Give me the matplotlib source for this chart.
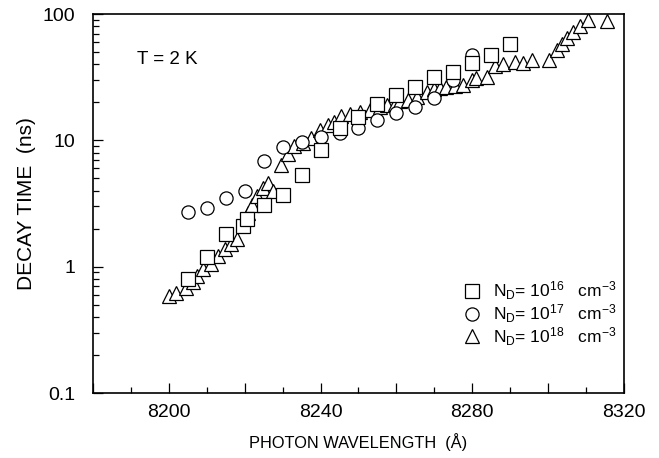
import matplotlib
matplotlib.use("Agg")
import matplotlib.pyplot as plt
from matplotlib.ticker import FixedLocator, MultipleLocator, LogLocator, NullFormatter

plt.rcParams['font.family'] = ['Liberation Sans', 'DejaVu Sans']
plt.rcParams['mathtext.fontset'] = 'custom'
plt.rcParams['mathtext.rm'] = 'Liberation Sans'
plt.rcParams['mathtext.it'] = 'Liberation Sans:italic'

# N_D = 1e16 cm^-3 (squares)
sq_wl = [8205, 8210, 8215, 8219.5, 8220.5, 8225, 8230, 8235, 8240, 8245,
         8250, 8255, 8260, 8265, 8270, 8275, 8280, 8285, 8290]
sq_tau = [0.80, 1.2, 1.8, 2.1, 2.4, 3.1, 3.7, 5.3, 8.4, 12.6,
          15.2, 19.3, 23, 26.5, 32, 35, 41, 47, 58]

# N_D = 1e17 cm^-3 (circles)
ci_wl = [8205, 8210, 8215, 8220, 8225, 8230, 8235, 8240, 8245, 8250,
         8255, 8260, 8265, 8270, 8275, 8280]
ci_tau = [2.7, 2.9, 3.5, 4.0, 6.9, 8.9, 9.7, 10.6, 11.5, 12.6,
          14.5, 16.6, 18.3, 21.5, 30, 47]

# N_D = 1e18 cm^-3 (triangles)
tr_wl = [8200.0, 8201.8, 8204.5, 8206.3, 8207.5, 8209.0, 8211.0, 8213.0, 8214.8, 8216.5,
         8218.0, 8221.0, 8221.8, 8223.2, 8224.9, 8226.2, 8227.5, 8229.7, 8231.5, 8233.0,
         8235.5, 8237.6, 8239.8, 8242.0, 8243.5, 8245.5, 8247.8, 8250.4, 8253.0, 8255.7,
         8257.4, 8259.5, 8261.0, 8263.1, 8265.5, 8268.0, 8270.0, 8271.5, 8273.2, 8275.5,
         8277.6, 8280.0, 8281.1, 8283.8, 8286.0, 8288.2, 8291.3, 8293.5, 8295.7, 8300.1,
         8302.3, 8303.6, 8304.9, 8306.6, 8308.4, 8310.4, 8315.4]
tr_tau = [0.59, 0.62, 0.68, 0.75, 0.85, 0.95, 1.05, 1.22, 1.38, 1.5,
          1.65, 2.65, 3.1, 3.6, 4.2, 4.6, 4.0, 6.4, 7.8, 9.0,
          9.6, 10.5, 12.0, 13.2, 14.0, 15.5, 16.3, 16.8, 17.3, 18.2,
          19.1, 19.5, 20.5, 21.0, 22.0, 24.0, 25.5, 26.0, 26.5, 27.0,
          27.5, 30.0, 31.0, 32.0, 39.0, 40.0, 42.0, 41.0, 43.0, 43.0,
          52.0, 58.0, 65.0, 72.0, 81.0, 90.0, 88.0]

labels = [r'N$_\mathrm{D}$= 10$^{16}$   cm$^{-3}$',
          r'N$_\mathrm{D}$= 10$^{17}$   cm$^{-3}$',
          r'N$_\mathrm{D}$= 10$^{18}$   cm$^{-3}$']
xtick_labels = [8200, 8240, 8280, 8320]
ytick_vals = [0.1, 1, 10, 100]
ytick_labels = ['0.1', '1', '10', '100']

fig = plt.figure(figsize=(6.59, 4.58), dpi=100)
ax = fig.add_axes([0.1411, 0.1419, 0.8058, 0.8275])

mk = dict(linestyle='none', markerfacecolor='white', markeredgecolor='black',
          markeredgewidth=0.9)
h3, = ax.plot(tr_wl, tr_tau, marker='^', markersize=10, label=labels[2], **mk)
h2, = ax.plot(ci_wl, ci_tau, marker='o', markersize=9.5, label=labels[1], **mk)
h1, = ax.plot(sq_wl, sq_tau, marker='s', markersize=9.5, label=labels[0], **mk)

ax.set_yscale('log')
ax.set_xlim(8180, 8320)
ax.set_ylim(0.1, 100)

ax.xaxis.set_major_locator(FixedLocator(range(8180, 8321, 20)))
ax.set_xticklabels([str(v) if v in xtick_labels else '' for v in range(8180, 8321, 20)])
ax.xaxis.set_minor_locator(MultipleLocator(10))
ax.set_yticks(ytick_vals, ytick_labels)
ax.yaxis.set_minor_locator(LogLocator(base=10, subs=range(2, 10)))
ax.yaxis.set_minor_formatter(NullFormatter())

ax.tick_params(which='both', direction='in', top=False, right=False, width=0.9)
ax.tick_params(which='major', length=7, labelsize=14)
ax.tick_params(which='minor', length=4)
ax.tick_params(axis='x', pad=8)
ax.tick_params(axis='y', pad=13)
for s in ax.spines.values():
    s.set_linewidth(1.2)

ax.set_xlabel('PHOTON WAVELENGTH  (Å)', fontsize=11.8)
ax.set_ylabel('DECAY TIME  (ns)', fontsize=15)
ax.xaxis.set_label_coords(0.5, -0.105)
ax.yaxis.set_label_coords(-0.108, 0.5)

ax.text(0.083, 0.881, 'T = 2 K', transform=ax.transAxes, fontsize=13.5,
        ha='left', va='center')

ax.legend(handles=[h1, h2, h3], loc='lower right', bbox_to_anchor=(0.985, 0.12),
          frameon=False, fontsize=12.5, handlelength=1.0, handletextpad=0.7,
          labelspacing=0.0, borderpad=0, borderaxespad=0)

fig.savefig('out.png', dpi=100)
